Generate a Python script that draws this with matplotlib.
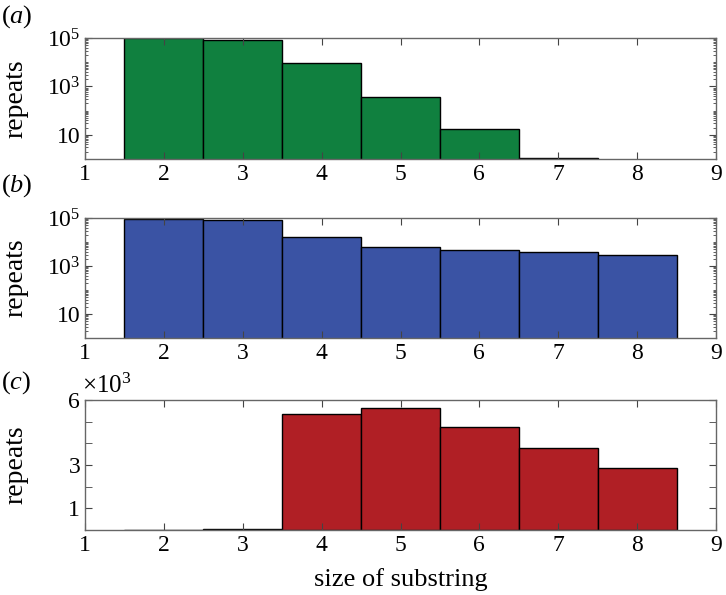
import numpy as np
import matplotlib
matplotlib.use('Agg')
import matplotlib.pyplot as plt
from matplotlib.ticker import FixedLocator, LogLocator, NullFormatter

plt.rcParams['font.family'] = 'Liberation Serif'
plt.rcParams['mathtext.fontset'] = 'custom'
plt.rcParams['mathtext.rm'] = 'Liberation Serif'
plt.rcParams['mathtext.it'] = 'Liberation Serif:italic'

# data
sizes = [2, 3, 4, 5, 6, 7, 8]
repeats_a = [98000, 82000, 9500, 380, 18, 1.1, 0]
repeats_b = [95000, 80000, 15600, 6000, 4650, 3830, 2780]
repeats_c = [8, 60, 5350, 5610, 4760, 3770, 2840]

colors = ['#10803f', '#3a53a4', '#b01f25']
panels = ['a', 'b', 'c']

fig = plt.figure(figsize=(7.26, 5.95), dpi=100)
W, H = 726, 595
left, right = 85, 716
tops = [38, 218, 400]
bottoms = [159, 338, 530]
label_y = [17, 186, 383]

axes = []
for top, bot in zip(tops, bottoms):
    ax = fig.add_axes([left / W, 1 - bot / H, (right - left) / W, (bot - top) / H])
    axes.append(ax)

fs = 17
for i, (ax, vals) in enumerate(zip(axes, [repeats_a, repeats_b, repeats_c])):
    ax.bar(sizes, vals, width=1.0, color=colors[i], edgecolor='black', linewidth=1.0)
    ax.set_xlim(1, 9)
    ax.set_xticks(range(1, 10))
    ax.tick_params(axis='both', which='both', direction='in', top=True, right=True,
                   labelsize=fs, colors='#444444', labelcolor='black')
    ax.tick_params(which='major', length=5)
    ax.tick_params(which='minor', length=2.5)
    for sp in ax.spines.values():
        sp.set_color('#666666')
        sp.set_linewidth(1.0)
    ax.set_ylabel('repeats', fontsize=20)
    ax.yaxis.set_label_coords(-0.09, 0.5)
    fig.text(1 / W, 1 - label_y[i] / H, r'$(\mathit{%s})$' % panels[i], fontsize=19,
             va='center', ha='left')

for ax in axes[:2]:
    ax.set_yscale('log')
    ax.set_ylim(1, 1e5)
    ax.yaxis.set_major_locator(FixedLocator([10, 1e3, 1e5]))
    ax.set_yticklabels(['10', r'$10^3$', r'$10^5$'])
    ax.yaxis.set_minor_locator(LogLocator(base=10, subs=np.arange(1, 10), numticks=20))
    ax.yaxis.set_minor_formatter(NullFormatter())

ax = axes[2]
ax.set_ylim(0, 6000)
ax.set_yticks([1000, 3000, 6000])
ax.set_yticklabels(['1', '3', '6'])
ax.yaxis.set_minor_locator(FixedLocator([2000, 4000, 5000]))
ax.tick_params(axis='y', which='minor', length=5)
ax.text(-0.004, 1.015, r'$\times 10^3$', transform=ax.transAxes, fontsize=18, va='bottom', ha='left')
ax.set_xlabel('size of substring', fontsize=19, labelpad=9)

fig.savefig('out.png', dpi=100)
